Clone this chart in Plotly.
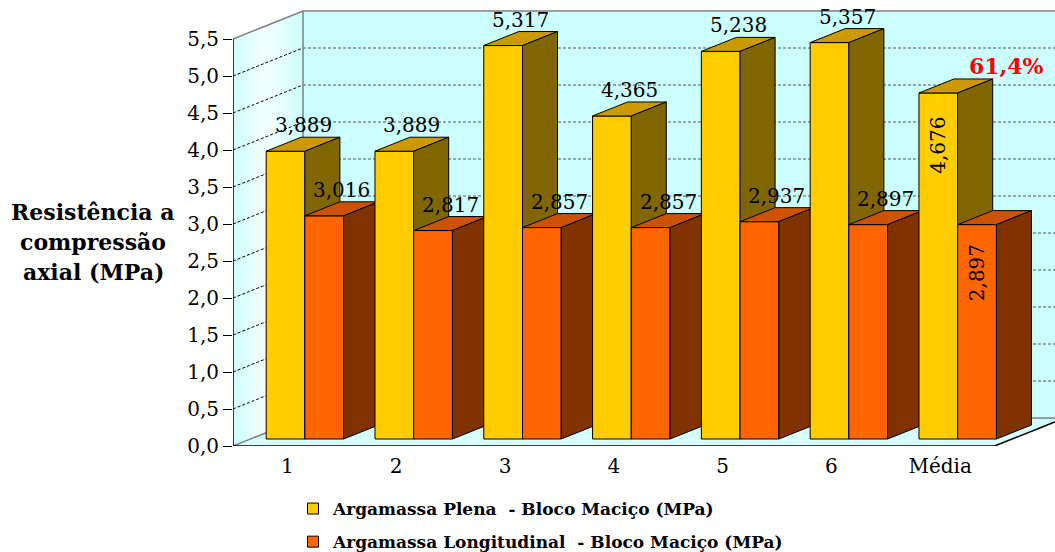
import plotly.graph_objects as go

# ---- data -------------------------------------------------------------
categorias = ["1", "2", "3", "4", "5", "6", "Média"]
plena = [3.889, 3.889, 5.317, 4.365, 5.238, 5.357, 4.676]
longitudinal = [3.016, 2.817, 2.857, 2.857, 2.937, 2.897, 2.897]
nomes_series = [
    "Argamassa Plena  - Bloco Maciço (MPa)",
    "Argamassa Longitudinal  - Bloco Maciço (MPa)",
]
y_ticks = [0.0, 0.5, 1.0, 1.5, 2.0, 2.5, 3.0, 3.5, 4.0, 4.5, 5.0, 5.5]
razao_media = "61,4%"
titulo_y = ["Resistência a", "compressão", "axial (MPa)"]

# ---- geometry of the pseudo-3D box -------------------------------------
W, H = 1055, 552
PX_LEFT, PX_BOTTOM = 233, 446          # pixel position of the (0, 0) corner
KX, KY = 108.8, 74.0                   # pixels per category / per MPa
DX, DY = 70 / KX, 28 / KY              # full depth of the box in axis units
Z_FRONT, Z_BACK = 0.25, 0.75           # depth slice occupied by the bars
BAR_W = 0.356                          # width of one bar (category units)
N = len(categorias)
X_MAX = (W - PX_LEFT) / KX
Y_MAX = PX_BOTTOM / KY
Y_TOP = y_ticks[-1]

FONT = "DejaVu Serif"
WALL = "#CCFFFF"
EDGE = "#808080"

# front / top / side colours for each series
cores = [
    ("#FFCC00", "#CC9900", "#806600"),
    ("#FF6600", "#CC5200", "#803300"),
]

fig = go.Figure()


def poly(xs, ys, fill, line_color="black", width=1, **kw):
    fig.add_trace(go.Scatter(
        x=list(xs) + [xs[0]], y=list(ys) + [ys[0]], mode="lines",
        fill="toself", fillcolor=fill,
        line=dict(color=line_color, width=width),
        hoverinfo="skip", showlegend=False, **kw))


def path(xs, ys, color, width=1, dash="solid"):
    fig.add_trace(go.Scatter(
        x=xs, y=ys, mode="lines", line=dict(color=color, width=width, dash=dash),
        hoverinfo="skip", showlegend=False))


# walls and floor
poly([0, 0, DX, DX], [0, Y_TOP, Y_TOP + DY, DY], WALL, line_color="rgba(0,0,0,0)",
     fillgradient=dict(type="horizontal",
                       colorscale=[[0, "#CCFFFF"], [0.45, "#F6FFFF"], [1, "#CCFFFF"]]))
poly([DX, N + DX + 1, N + DX + 1, DX], [DY, DY, Y_TOP + DY, Y_TOP + DY], WALL,
     line_color="rgba(0,0,0,0)")
poly([0, N, N + DX, DX], [0, 0, DY, DY], WALL, line_color="rgba(0,0,0,0)",
     fillgradient=dict(type="vertical",
                       colorscale=[[0, "#DDFFFF"], [1, "#CCFFFF"]]))

# gridlines on the back wall and the side wall
gx, gy, sx, sy = [], [], [], []
for v in y_ticks[1:-1]:
    gx += [DX, N + DX + 1, None]
    gy += [v + DY, v + DY, None]
    sx += [0, DX, None]
    sy += [v, v + DY, None]
path(gx, gy, "#555555", 1, "3px,2px")
path(sx, sy, "black", 1, "3px,2px")

# box edges
path([0, DX, N + DX + 1], [Y_TOP, Y_TOP + DY, Y_TOP + DY], EDGE, 1.5)
path([DX, DX, N + DX + 1], [Y_TOP + DY, DY, DY], EDGE, 1.5)
path([0, DX], [0, DY], EDGE, 1.5)
path([0, 0], [0, Y_TOP], "black", 1.5)
path([0, N, N + DX], [0, 0, DY], "black", 1.5)

# bars, drawn left to right so each bar hides the side of the previous one
ax, ay = Z_FRONT * DX, Z_FRONT * DY
bx, by = Z_BACK * DX, Z_BACK * DY
anots = []
for i in range(N):
    for s, serie in enumerate([plena, longitudinal]):
        v = serie[i]
        xl = i + 0.5 - BAR_W + s * BAR_W
        xr = xl + BAR_W
        front, top, side = cores[s]
        poly([xl + ax, xr + ax, xr + ax, xl + ax], [ay, ay, v + ay, v + ay], front)
        poly([xl + ax, xr + ax, xr + bx, xl + bx], [v + ay, v + ay, v + by, v + by], top)
        poly([xr + ax, xr + bx, xr + bx, xr + ax], [ay, by, v + by, v + ay], side)
        txt = f"{v:.3f}".replace(".", ",")
        if categorias[i] == "Média":
            anots.append(dict(x=(xl + xr) / 2 + ax, y=v + ay, text=txt, textangle=-90,
                              xanchor="center", yanchor="top", yshift=-22 + 4 * s,
                              showarrow=False, font=dict(family=FONT, size=20, color="black")))
            if s == 0:
                anots.append(dict(x=xr + bx, y=v + by, text=razao_media,
                                  xanchor="center", yanchor="bottom", xshift=14, yshift=-2,
                                  showarrow=False,
                                  font=dict(family=FONT, size=22, color="#FF0000",
                                            weight="bold")))
        else:
            anots.append(dict(x=(xl + xr) / 2 + (ax + bx) / 2, y=v + by, text=txt,
                              xanchor="center", yanchor="bottom", yshift=-2,
                              showarrow=False, font=dict(family=FONT, size=20, color="black")))

# legend entries
for s, nome in enumerate(nomes_series):
    fig.add_trace(go.Scatter(
        x=[None], y=[None], mode="markers", name=nome, legendgroup=str(s),
        marker=dict(symbol="square", size=11, color=cores[s][0],
                    line=dict(color="black", width=1))))

# y-axis title, one annotation per line
for k, linha in enumerate(titulo_y):
    anots.append(dict(xref="paper", yref="paper", x=-(PX_LEFT - 93) / (W - PX_LEFT),
                      y=1 - (212 + 30 * k) / PX_BOTTOM, text=linha, showarrow=False,
                      xanchor="center", yanchor="middle",
                      font=dict(family=FONT, size=22, color="black", weight="bold")))

fig.update_layout(
    width=W, height=H,
    margin=dict(l=PX_LEFT, r=0, t=0, b=H - PX_BOTTOM, autoexpand=False),
    paper_bgcolor="white", plot_bgcolor="white",
    annotations=anots,
    xaxis=dict(range=[0, X_MAX], tickvals=[i + 0.5 for i in range(N)], ticktext=categorias,
               showgrid=False, zeroline=False, showline=False, ticks="",
               ticklabelstandoff=6, tickfont=dict(family=FONT, size=20, color="black"),
               fixedrange=True, automargin=False),
    yaxis=dict(range=[0, Y_MAX], tickvals=y_ticks,
               ticktext=[f"{t:.1f}".replace(".", ",") for t in y_ticks],
               showgrid=False, zeroline=False, showline=False,
               ticks="outside", ticklen=9, tickcolor="black", tickwidth=1,
               tickfont=dict(family=FONT, size=20, color="black"), fixedrange=True,
               automargin=False),
    legend=dict(xref="container", yref="container", x=293 / W, y=1 - 491 / H,
                xanchor="left", yanchor="top", traceorder="grouped", tracegroupgap=8,
                font=dict(family=FONT, size=17, color="black", weight="bold"),
                bgcolor="rgba(0,0,0,0)"),
    showlegend=True,
)

fig.write_html("out.html")
